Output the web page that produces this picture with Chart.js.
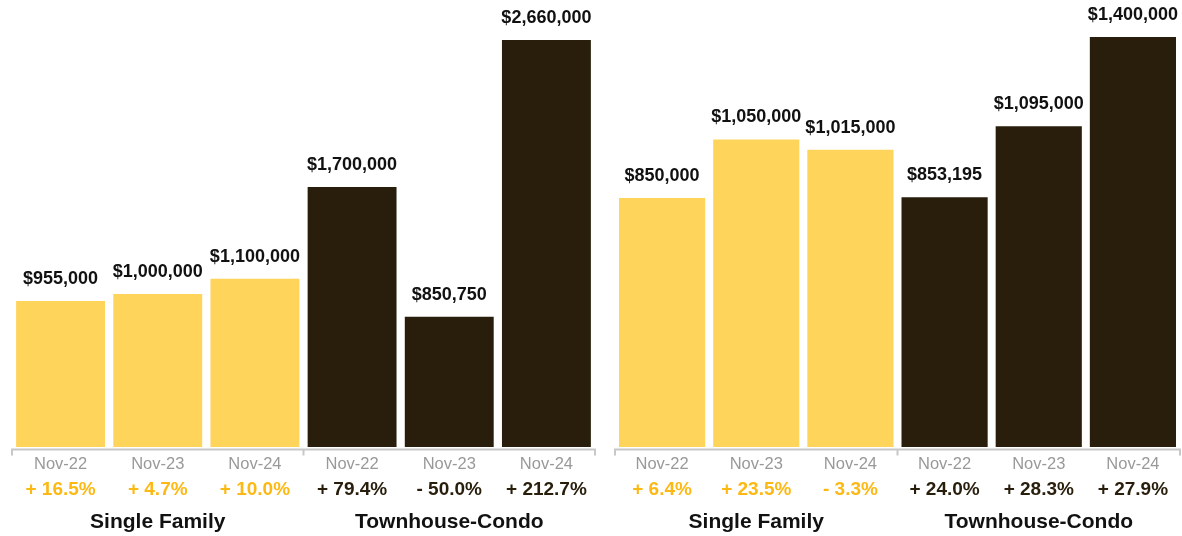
<!DOCTYPE html>
<html>
<head>
<meta charset="utf-8">
<script src="https://cdn.jsdelivr.net/npm/chart.js@4/dist/chart.umd.min.js"></script>
<style>
  html, body { margin: 0; padding: 0; background: #fff; }
  #wrap { position: relative; width: 1182px; height: 536px; overflow: hidden; }
  .panel { position: absolute; top: 0; height: 536px; }
  #p1 { left: 0; width: 600px; }
  #p2 { left: 600px; width: 582px; }
</style>
</head>
<body>
<div id="wrap">
  <div class="panel" id="p1"><canvas id="c1"></canvas></div>
  <div class="panel" id="p2"><canvas id="c2"></canvas></div>
</div>
<script>
// Month labels shared by both panels (three per property type)
const months = ['Nov-22', 'Nov-23', 'Nov-24', 'Nov-22', 'Nov-23', 'Nov-24'];
const groups = ['Single Family', 'Townhouse-Condo'];

// Left panel: prices and year-over-year change
const leftValues = [955000, 1000000, 1100000, 1700000, 850750, 2660000];
const leftChanges = ['+ 16.5%', '+ 4.7%', '+ 10.0%', '+ 79.4%', '- 50.0%', '+ 212.7%'];

// Right panel: prices and year-over-year change
const rightValues = [850000, 1050000, 1015000, 853195, 1095000, 1400000];
const rightChanges = ['+ 6.4%', '+ 23.5%', '- 3.3%', '+ 24.0%', '+ 28.3%', '+ 27.9%'];

const YELLOW = '#FFD45B';
const DARK = '#281E0B';
const GOLD_TEXT = '#FDB913';
const FONT = '"Liberation Sans", Arial, Helvetica, sans-serif';

const barColors = months.map((m, i) => i < 3 ? YELLOW : DARK);
const changeColors = months.map((m, i) => i < 3 ? GOLD_TEXT : DARK);

const money = v => '$' + v.toLocaleString('en-US');

// Draws value labels, the bracket axis line, change percentages and group titles
const annotate = {
  id: 'annotate',
  afterDraw(chart, args, opts) {
    const ctx = chart.ctx;
    const xs = chart.scales.x;
    const area = chart.chartArea;
    const meta = chart.getDatasetMeta(0);
    const values = chart.data.datasets[0].data;
    ctx.save();

    // values above bars
    ctx.fillStyle = '#111';
    ctx.font = 'bold 18px ' + FONT;
    ctx.textAlign = 'center';
    ctx.textBaseline = 'middle';
    meta.data.forEach((bar, i) => {
      ctx.fillText(money(values[i]), bar.x, bar.y - 22);
    });

    // bracket-style axis line
    const lineY = area.bottom + 2.5;
    const mid = (xs.getPixelForTick(2) + xs.getPixelForTick(3)) / 2;
    ctx.strokeStyle = '#C8C8C8';
    ctx.lineWidth = 2;
    ctx.beginPath();
    ctx.moveTo(area.left, lineY + 6);
    ctx.lineTo(area.left, lineY);
    ctx.lineTo(area.right, lineY);
    ctx.lineTo(area.right, lineY + 6);
    ctx.moveTo(mid, lineY);
    ctx.lineTo(mid, lineY + 6);
    ctx.stroke();

    // change percentages
    ctx.font = 'bold 19px ' + FONT;
    opts.changes.forEach((t, i) => {
      ctx.fillStyle = changeColors[i];
      ctx.fillText(t, xs.getPixelForTick(i), area.bottom + 43);
    });

    // group titles
    ctx.fillStyle = '#111';
    ctx.font = 'bold 21px ' + FONT;
    groups.forEach((g, k) => {
      const x = (xs.getPixelForTick(k * 3) + xs.getPixelForTick(k * 3 + 2)) / 2;
      ctx.fillText(g, x, area.bottom + 75);
    });
    ctx.restore();
  }
};

function makeChart(id, values, changes, pad) {
  return new Chart(document.getElementById(id), {
    type: 'bar',
    data: {
      labels: months,
      datasets: [{
        data: values,
        backgroundColor: barColors,
        borderWidth: 0,
        barPercentage: 0.915,
        categoryPercentage: 1.0
      }]
    },
    options: {
      responsive: true,
      maintainAspectRatio: false,
      animation: false,
      layout: { padding: pad },
      plugins: {
        legend: { display: false },
        tooltip: { enabled: false },
        annotate: { changes: changes }
      },
      scales: {
        x: {
          grid: { display: false, drawTicks: false },
          border: { display: false },
          ticks: {
            color: '#999999',
            font: { family: FONT, size: 16.5 },
            padding: 8,
            maxRotation: 0,
            autoSkip: false
          },
          afterFit(scale) { scale.height = 89; }
        },
        y: {
          display: false,
          min: 0,
          max: Math.max(...values)
        }
      }
    },
    plugins: [annotate]
  });
}

makeChart('c1', leftValues, leftChanges, { left: 12, right: 5, top: 40, bottom: 0 });
makeChart('c2', rightValues, rightChanges, { left: 15, right: 2, top: 37, bottom: 0 });
</script>
</body>
</html>
